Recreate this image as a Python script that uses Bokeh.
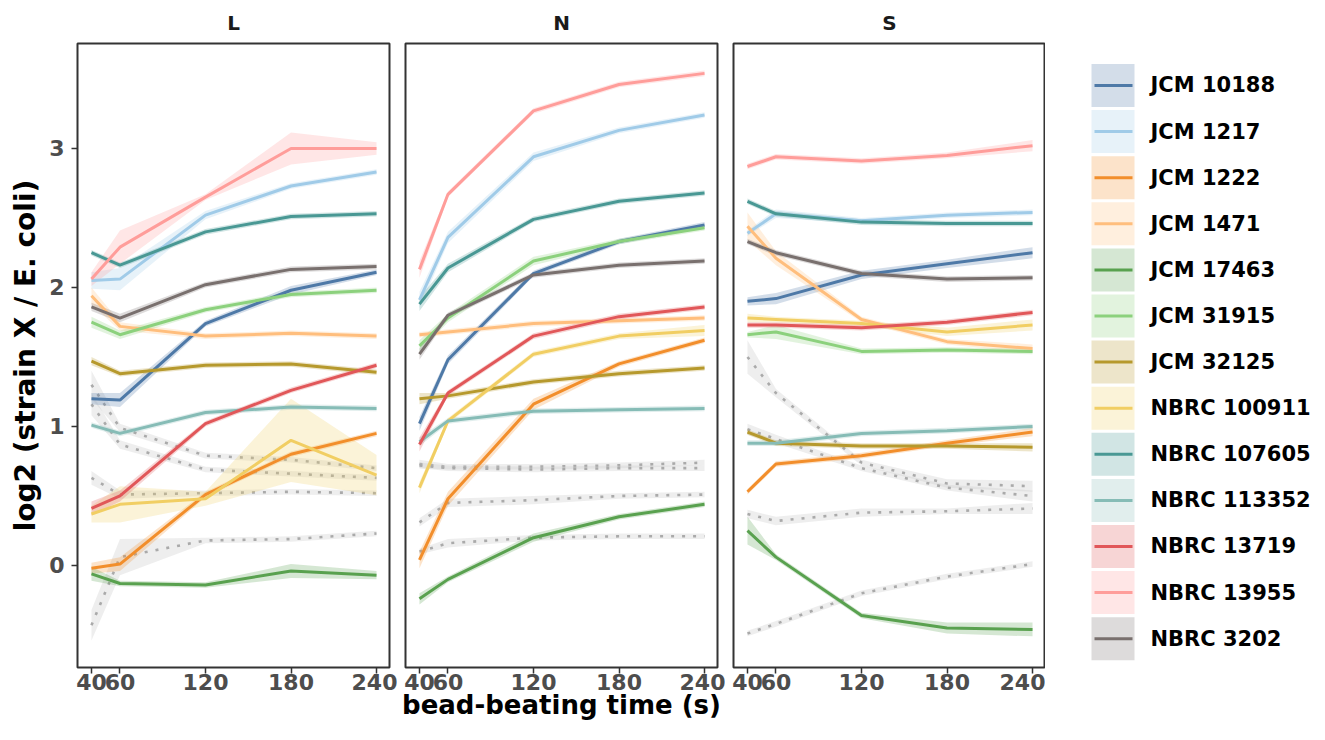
import numpy as np
from bokeh.plotting import figure
from bokeh.layouts import row
from bokeh.models import Range1d, FixedTicker, ColumnDataSource
from bokeh.core.properties import value
from bokeh.embed import file_html
from bokeh.resources import INLINE

times = [40, 60, 120, 180, 240]
strains = ["JCM 10188", "JCM 1217", "JCM 1222", "JCM 1471", "JCM 17463", "JCM 31915",
           "JCM 32125", "NBRC 100911", "NBRC 107605", "NBRC 113352", "NBRC 13719",
           "NBRC 13955", "NBRC 3202"]
colors = ["#4E79A7", "#A0CBE8", "#F28E2B", "#FFBE7D", "#59A14F", "#8CD17D", "#B6992D",
          "#F1CE63", "#499894", "#86BCB6", "#E15759", "#FF9D9A", "#79706E"]
panel_names = ["L", "N", "S"]
y_ticks = [0, 1, 2, 3]

# ---- panel L ----
L_mean = {
    "JCM 10188": [1.20, 1.19, 1.74, 1.98, 2.11],
    "JCM 1217": [2.05, 2.06, 2.52, 2.73, 2.83],
    "JCM 1222": [-0.02, 0.01, 0.51, 0.80, 0.95],
    "JCM 1471": [1.94, 1.72, 1.65, 1.67, 1.65],
    "JCM 17463": [-0.06, -0.13, -0.14, -0.04, -0.07],
    "JCM 31915": [1.75, 1.66, 1.84, 1.95, 1.98],
    "JCM 32125": [1.47, 1.38, 1.44, 1.45, 1.39],
    "NBRC 100911": [0.37, 0.44, 0.48, 0.90, 0.65],
    "NBRC 107605": [2.25, 2.16, 2.40, 2.51, 2.53],
    "NBRC 113352": [1.01, 0.95, 1.10, 1.14, 1.13],
    "NBRC 13719": [0.41, 0.50, 1.02, 1.26, 1.44],
    "NBRC 13955": [2.06, 2.29, 2.65, 3.00, 3.00],
    "NBRC 3202": [1.86, 1.78, 2.02, 2.13, 2.15],
}
L_spread = {
    "JCM 10188": [0.04, 0.05, 0.02, 0.03, 0.02],
    "JCM 1217": [0.06, 0.08, 0.03, 0.02, 0.02],
    "JCM 1222": [0.04, 0.05, 0.02, 0.02, 0.02],
    "JCM 1471": [0.06, 0.03, 0.02, 0.02, 0.02],
    "JCM 17463": [0.05, 0.02, 0.02, 0.05, 0.03],
    "JCM 31915": [0.04, 0.03, 0.02, 0.02, 0.02],
    "JCM 32125": [0.03, 0.02, 0.02, 0.02, 0.02],
    "NBRC 100911": [0.06, 0.13, 0.05, 0.30, 0.145],
    "NBRC 107605": [0.02, 0.02, 0.02, 0.02, 0.02],
    "NBRC 113352": [0.02, 0.02, 0.02, 0.02, 0.02],
    "NBRC 13719": [0.05, 0.04, 0.02, 0.02, 0.02],
    "NBRC 13955": [0.05, 0.12, 0.02, 0.115, 0.045],
    "NBRC 3202": [0.03, 0.03, 0.02, 0.02, 0.02],
}
L_other_mean = [[1.30, 0.99, 0.79, 0.76, 0.70],
                [1.16, 0.87, 0.69, 0.66, 0.63],
                [0.63, 0.51, 0.52, 0.53, 0.52],
                [-0.43, 0.06, 0.18, 0.19, 0.23]]
L_other_spread = [[0.10, 0.03, 0.02, 0.02, 0.02],
                  [0.08, 0.03, 0.02, 0.02, 0.02],
                  [0.05, 0.03, 0.02, 0.02, 0.02],
                  [0.11, 0.13, 0.02, 0.02, 0.02]]

# ---- panel N ----
N_mean = {
    "JCM 10188": [1.02, 1.48, 2.10, 2.33, 2.45],
    "JCM 1217": [1.91, 2.36, 2.94, 3.13, 3.24],
    "JCM 1222": [0.04, 0.48, 1.16, 1.45, 1.62],
    "JCM 1471": [1.66, 1.68, 1.74, 1.76, 1.78],
    "JCM 17463": [-0.24, -0.10, 0.20, 0.35, 0.44],
    "JCM 31915": [1.58, 1.78, 2.19, 2.33, 2.43],
    "JCM 32125": [1.20, 1.22, 1.32, 1.38, 1.42],
    "NBRC 100911": [0.56, 1.04, 1.52, 1.65, 1.69],
    "NBRC 107605": [1.88, 2.14, 2.49, 2.62, 2.68],
    "NBRC 113352": [0.89, 1.04, 1.11, 1.12, 1.13],
    "NBRC 13719": [0.87, 1.24, 1.65, 1.79, 1.86],
    "NBRC 13955": [2.13, 2.67, 3.27, 3.46, 3.54],
    "NBRC 3202": [1.52, 1.80, 2.09, 2.16, 2.19],
}
N_spread = {
    "JCM 10188": [0.05, 0.03, 0.02, 0.02, 0.02],
    "JCM 1217": [0.06, 0.04, 0.03, 0.02, 0.02],
    "JCM 1222": [0.06, 0.05, 0.04, 0.02, 0.02],
    "JCM 1471": [0.02, 0.02, 0.02, 0.02, 0.02],
    "JCM 17463": [0.04, 0.02, 0.03, 0.02, 0.02],
    "JCM 31915": [0.04, 0.03, 0.03, 0.02, 0.02],
    "JCM 32125": [0.04, 0.02, 0.02, 0.02, 0.02],
    "NBRC 100911": [0.04, 0.02, 0.02, 0.02, 0.04],
    "NBRC 107605": [0.05, 0.03, 0.02, 0.02, 0.02],
    "NBRC 113352": [0.03, 0.02, 0.02, 0.02, 0.02],
    "NBRC 13719": [0.05, 0.02, 0.02, 0.02, 0.02],
    "NBRC 13955": [0.06, 0.02, 0.02, 0.02, 0.02],
    "NBRC 3202": [0.04, 0.02, 0.02, 0.02, 0.02],
}
N_other_mean = [[0.73, 0.71, 0.71, 0.72, 0.74],
                [0.72, 0.70, 0.69, 0.70, 0.70],
                [0.31, 0.45, 0.47, 0.50, 0.51],
                [0.10, 0.16, 0.20, 0.21, 0.21]]
N_other_spread = [[0.03, 0.02, 0.02, 0.02, 0.02],
                  [0.02, 0.02, 0.02, 0.02, 0.02],
                  [0.03, 0.03, 0.03, 0.02, 0.02],
                  [0.02, 0.03, 0.02, 0.02, 0.02]]

# ---- panel S ----
S_mean = {
    "JCM 10188": [1.90, 1.92, 2.09, 2.17, 2.25],
    "JCM 1217": [2.39, 2.53, 2.48, 2.52, 2.54],
    "JCM 1222": [0.53, 0.73, 0.79, 0.88, 0.96],
    "JCM 1471": [2.44, 2.21, 1.77, 1.61, 1.56],
    "JCM 17463": [0.25, 0.06, -0.36, -0.45, -0.46],
    "JCM 31915": [1.66, 1.68, 1.54, 1.55, 1.54],
    "JCM 32125": [0.96, 0.88, 0.86, 0.86, 0.85],
    "NBRC 100911": [1.78, 1.77, 1.74, 1.68, 1.73],
    "NBRC 107605": [2.62, 2.53, 2.47, 2.46, 2.46],
    "NBRC 113352": [0.88, 0.88, 0.95, 0.97, 1.00],
    "NBRC 13719": [1.73, 1.73, 1.71, 1.75, 1.82],
    "NBRC 13955": [2.87, 2.94, 2.91, 2.95, 3.02],
    "NBRC 3202": [2.33, 2.25, 2.10, 2.06, 2.07],
}
S_spread = {
    "JCM 10188": [0.03, 0.04, 0.03, 0.03, 0.04],
    "JCM 1217": [0.02, 0.03, 0.02, 0.02, 0.02],
    "JCM 1222": [0.02, 0.02, 0.02, 0.02, 0.03],
    "JCM 1471": [0.10, 0.05, 0.02, 0.02, 0.03],
    "JCM 17463": [0.10, 0.02, 0.02, 0.04, 0.05],
    "JCM 31915": [0.02, 0.05, 0.02, 0.02, 0.02],
    "JCM 32125": [0.02, 0.02, 0.02, 0.02, 0.03],
    "NBRC 100911": [0.03, 0.02, 0.02, 0.03, 0.04],
    "NBRC 107605": [0.02, 0.02, 0.02, 0.02, 0.02],
    "NBRC 113352": [0.02, 0.02, 0.02, 0.02, 0.02],
    "NBRC 13719": [0.02, 0.02, 0.02, 0.02, 0.02],
    "NBRC 13955": [0.02, 0.02, 0.02, 0.02, 0.04],
    "NBRC 3202": [0.02, 0.02, 0.02, 0.02, 0.02],
}
S_other_mean = [[1.50, 1.24, 0.74, 0.59, 0.57],
                [0.98, 0.91, 0.70, 0.56, 0.50],
                [0.37, 0.32, 0.38, 0.39, 0.41],
                [-0.49, -0.42, -0.20, -0.08, 0.01]]
S_other_spread = [[0.12, 0.03, 0.02, 0.03, 0.04],
                  [0.04, 0.03, 0.02, 0.02, 0.04],
                  [0.03, 0.03, 0.03, 0.02, 0.04],
                  [0.02, 0.02, 0.02, 0.02, 0.02]]

FONT = "DejaVu Sans"
FRAME_W, FRAME_H = 312, 624
TOP = 42


def make_panel(name, means, spreads, o_means, o_spreads, first, xlabel):
    p = figure(frame_width=FRAME_W, frame_height=FRAME_H,
               x_range=Range1d(30.2, 249.1), y_range=Range1d(-0.734, 3.755),
               output_backend="svg", toolbar_location=None, title=name,
               min_border_left=77 if first else 8, min_border_right=8,
               min_border_top=TOP, min_border_bottom=70)
    p.title.align = "center"
    p.title.text_font = FONT
    p.title.text_font_size = "20px"
    p.title.text_font_style = "bold"
    p.title.text_color = "#1a1a1a"
    p.title.standoff = 17
    p.xgrid.visible = False
    p.ygrid.visible = False
    p.outline_line_color = "#333333"
    p.outline_line_width = 2
    p.outline_line_alpha = 1
    p.background_fill_color = "white"

    # other strains (grey dotted)
    for m, s in zip(o_means, o_spreads):
        m = np.array(m); s = np.array(s)
        p.varea(x=times, y1=m - s, y2=m + s, fill_color="#c8c8c8", fill_alpha=0.3)
        p.line(times, m, line_color="#aaaaaa", line_width=2.6, line_dash="3 8")

    for st, c in zip(strains, colors):
        m = np.array(means[st]); s = np.array(spreads[st])
        p.varea(x=times, y1=m - s, y2=m + s, fill_color=c, fill_alpha=0.25)
    for st, c in zip(strains, colors):
        p.line(times, means[st], line_color=c, line_width=3)

    for ax in p.axis:
        ax.axis_line_color = None
        ax.major_tick_line_color = "#333333"
        ax.major_tick_line_width = 1.5
        ax.major_tick_out = 6
        ax.major_tick_in = 0
        ax.minor_tick_line_color = None
        ax.major_label_text_font = FONT
        ax.major_label_text_font_style = "bold"
        ax.major_label_text_font_size = "22px"
        ax.major_label_text_color = "#4d4d4d"
        ax.axis_label_text_font = FONT
        ax.axis_label_text_font_style = "bold"
        ax.axis_label_text_color = "black"
    p.xaxis.major_label_standoff = 0
    p.yaxis.major_label_standoff = 7
    p.xaxis.ticker = FixedTicker(ticks=times)
    p.yaxis.ticker = FixedTicker(ticks=y_ticks)
    if xlabel:
        p.xaxis.axis_label = "bead-beating time (s)"
        p.xaxis.axis_label_text_font_size = "26px"
        p.xaxis.axis_label_standoff = -3
    if first:
        p.yaxis.axis_label = "log2 (strain X / E. coli)"
        p.yaxis.axis_label_text_font_size = "28px"
        p.yaxis.axis_label_standoff = 4
    else:
        p.yaxis.visible = False
    return p


pL = make_panel("L", L_mean, L_spread, L_other_mean, L_other_spread, True, False)
pN = make_panel("N", N_mean, N_spread, N_other_mean, N_other_spread, False, True)
pS = make_panel("S", S_mean, S_spread, S_other_mean, S_other_spread, False, False)
pS.min_border_right = 0

# legend panel: entry i centred 42 px below the frame top, 46.1 px apart
idx = np.arange(len(strains))
leg = figure(frame_width=279, frame_height=FRAME_H,
             x_range=Range1d(0, 279), y_range=Range1d(12.625, -0.911),
             output_backend="svg", toolbar_location=None, x_axis_type=None, y_axis_type=None,
             min_border_left=0, min_border_right=0, min_border_top=TOP, min_border_bottom=70)
leg.xgrid.visible = False
leg.ygrid.visible = False
leg.outline_line_color = None
src = ColumnDataSource(dict(y=idx, name=strains, color=colors))
leg.rect(x=67.5, y="y", width=43, height=43, width_units="screen", height_units="screen",
         fill_color="color", fill_alpha=0.25, line_color=None, source=src)
leg.segment(x0=49, x1=87, y0="y", y1="y", line_color="color", line_width=3, source=src)
leg.text(x=105, y="y", text="name", text_baseline="middle", text_align="left",
         text_font=value(FONT), text_font_style="bold", text_font_size="21px",
         text_color="black", source=src)

layout = row(pL, pN, pS, leg, spacing=0)
open("out.html", "w").write(file_html(layout, INLINE))
